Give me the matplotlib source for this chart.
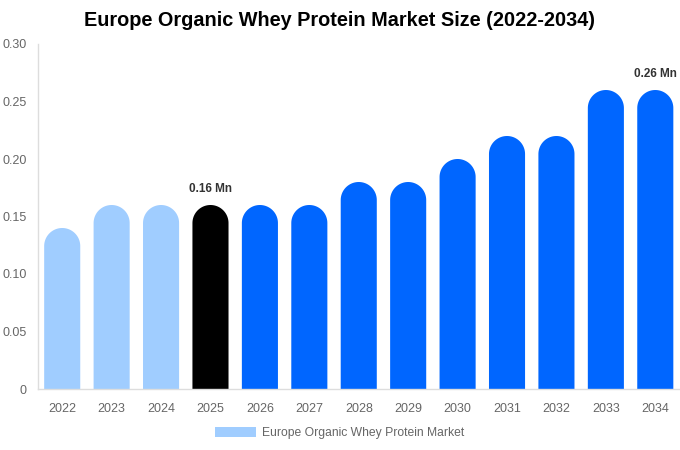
import matplotlib
matplotlib.use("Agg")
import numpy as np
import matplotlib.pyplot as plt
from matplotlib.patches import PathPatch, Patch
from matplotlib.path import Path

years = ["2022", "2023", "2024", "2025", "2026", "2027", "2028", "2029", "2030", "2031", "2032", "2033", "2034"]
values = [0.14, 0.16, 0.16, 0.16, 0.16, 0.16, 0.18, 0.18, 0.20, 0.22, 0.22, 0.26, 0.26]
colors = ["#A0CDFF"] * 3 + ["#000000"] + ["#0066FF"] * 9
labels = {3: "0.16 Mn", 12: "0.26 Mn"}
yticks = [0, 0.05, 0.10, 0.15, 0.20, 0.25, 0.30]
ytick_labels = ["0", "0.05", "0.10", "0.15", "0.20", "0.25", "0.30"]

plt.rcParams['font.family'] = ['Liberation Sans', 'DejaVu Sans']
W, H = 680, 450
fig = plt.figure(figsize=(W / 100, H / 100), dpi=100)
left, right, top, bottom = 37.5, 680, 44, 389
ax = fig.add_axes([left / W, 1 - bottom / H, (right - left) / W, (bottom - top) / H])
ax.set_xlim(-0.5, len(years) - 0.5)
ax.set_ylim(0, 0.30)

bw = 0.73
px_per_x = (right - left) / len(years)
px_per_y = (bottom - top) / 0.30
r_x = bw / 2
r_y = r_x * px_per_x / px_per_y
theta = np.linspace(0, np.pi, 60)
for i, (v, c) in enumerate(zip(values, colors)):
    cy = v - r_y
    arc_x = i + r_x * np.cos(theta)
    arc_y = cy + r_y * np.sin(theta)
    xs = np.concatenate([[i - r_x, i + r_x], arc_x, [i - r_x]])
    ys = np.concatenate([[0, 0], arc_y, [0]])
    verts = np.column_stack([xs, ys])
    codes = [Path.MOVETO] + [Path.LINETO] * (len(verts) - 2) + [Path.CLOSEPOLY]
    ax.add_patch(PathPatch(Path(verts, codes), facecolor=c, edgecolor='none', linewidth=0))
    if i in labels:
        ax.text(i, v + 0.0085, labels[i], ha='center', va='bottom', fontsize=8.5,
                fontweight='bold', color='#333333')

ax.set_xticks(range(len(years)))
ax.set_xticklabels(years)
ax.set_yticks(yticks)
ax.set_yticklabels(ytick_labels)
ax.tick_params(axis='both', length=0, labelsize=9, labelcolor='#666666')
ax.tick_params(axis='x', pad=10)
ax.tick_params(axis='y', pad=8)
for s in ['top', 'right']:
    ax.spines[s].set_visible(False)
for s in ['left', 'bottom']:
    ax.spines[s].set_color('#DDDDDD')
    ax.spines[s].set_linewidth(1)

fig.text(340 / W, 1 - 21 / H, "Europe Organic Whey Protein Market Size (2022-2034)",
         ha='center', va='center', fontsize=14.3, fontweight='bold', color='#000000')

handle = Patch(facecolor="#A0CDFF", edgecolor='none')
fig.legend([handle], ["Europe Organic Whey Protein Market"], loc='center',
           bbox_to_anchor=(340 / W, 1 - 433 / H), frameon=False, fontsize=8.7,
           labelcolor='#666666', handlelength=3.4, handleheight=0.9, handletextpad=0.5)

fig.savefig("out.png", dpi=100, facecolor='white')
